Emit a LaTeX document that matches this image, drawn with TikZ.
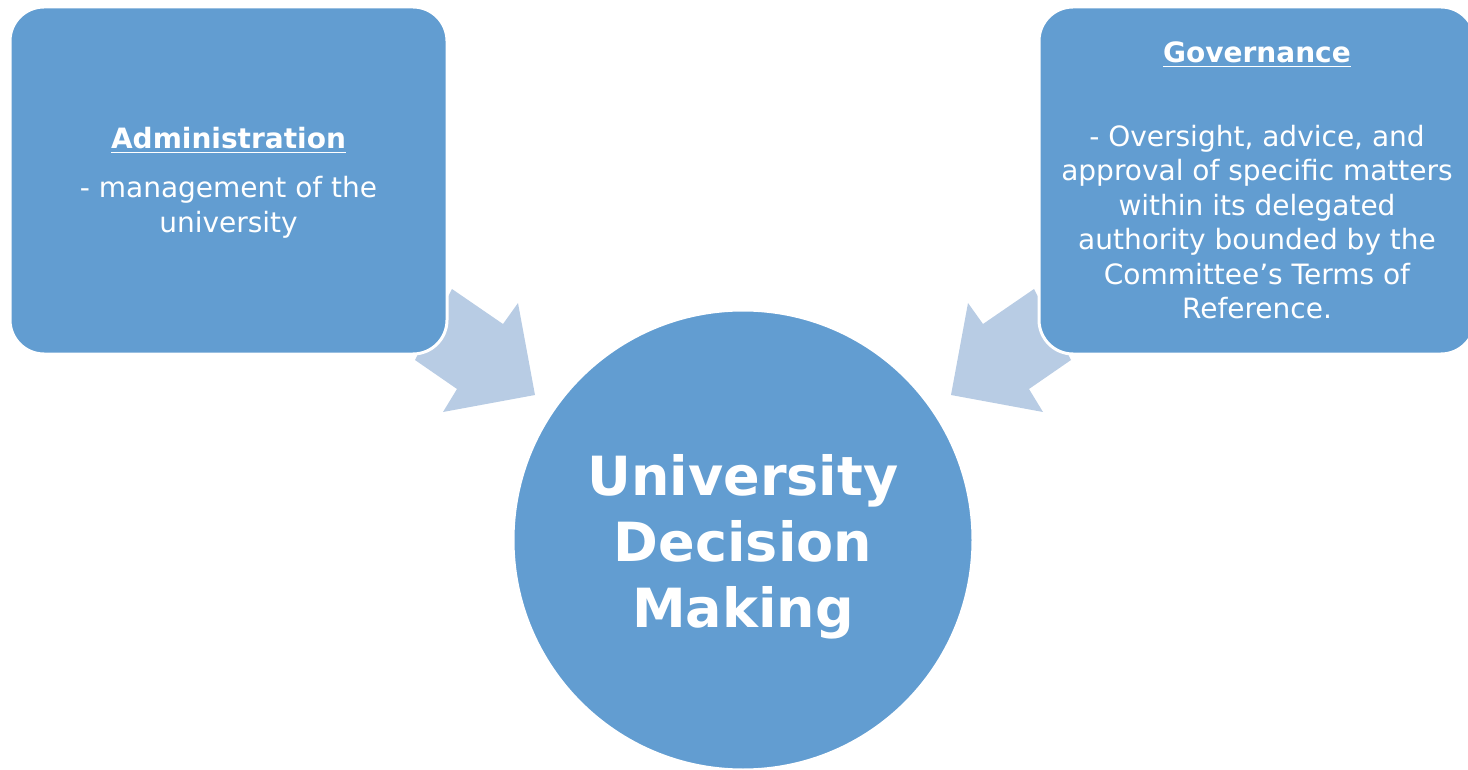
\documentclass[tikz,border=0pt]{standalone}
\usepackage{fontspec}
\setmainfont{DejaVu Sans}
\definecolor{boxblue}{RGB}{98,157,209}
\definecolor{arrowblue}{RGB}{184,204,228}
\newcommand\headul[1]{\setbox0\hbox{#1}\rlap{\rule[-4.2pt]{\wd0}{1.6pt}}\box0}
\begin{document}
\begin{tikzpicture}[x=1pt,y=-1pt,
  panel/.style={rectangle, fill=boxblue, draw=white, line width=3pt, rounded corners=34pt, inner sep=0pt},
  hub/.style={circle, fill=boxblue, draw=white, line width=3pt, inner sep=0pt, minimum size=460pt},
  blockarrow/.style={fill=arrowblue, draw=none},
  bodytext/.style={text=white, align=center, inner sep=0pt, font=\fontsize{28}{34.6}\selectfont},
  headtext/.style={text=white, inner sep=0pt, font=\bfseries\fontsize{28}{34.6}\selectfont},
  hubtext/.style={text=white, align=center, inner sep=0pt, font=\bfseries\fontsize{54}{66}\selectfont}
]
\useasboundingbox (0,0) rectangle (1468,770);
\clip (0,0) rectangle (1468,770);
% block arrows
\coordinate (la1) at (452,289);
\coordinate (la2) at (503,324);
\coordinate (la3) at (518,303);
\coordinate (la4) at (535,395);
\coordinate (la5) at (443,412);
\coordinate (la6) at (457,389);
\coordinate (la7) at (415,360);
\fill[blockarrow] (la1) -- (la2) -- (la3) -- (la4) -- (la5) -- (la6) -- (la7) -- cycle;
\coordinate (ra1) at (1034,289);
\coordinate (ra2) at (983,324);
\coordinate (ra3) at (968,303);
\coordinate (ra4) at (951,395);
\coordinate (ra5) at (1043,412);
\coordinate (ra6) at (1029,389);
\coordinate (ra7) at (1071,360);
\fill[blockarrow] (ra1) -- (ra2) -- (ra3) -- (ra4) -- (ra5) -- (ra6) -- (ra7) -- cycle;
% panels
\node[panel, minimum width=437pt, minimum height=347pt] (adm) at (228.5,180.5) {};
\node[panel, minimum width=436pt, minimum height=347pt] (gov) at (1257,180.5) {};
\node[hub] (udm) at (743,540) {};
% texts (multi-line nodes: base anchor is the last line's baseline)
\node[headtext, anchor=base] (admhead) at (228.5,149) {\headul{Administration}};
\node[bodytext, anchor=base] (admbody) at (228.5,232.6) {- management of the\\university};
\node[headtext, anchor=base] (govhead) at (1257,63) {\headul{Governance}};
\node[bodytext, anchor=base] (govbody) at (1257,319) {- Oversight, advice, and\\approval of specific matters\\within its delegated\\authority bounded by the\\Committee’s Terms of\\Reference.};
\node[hubtext, anchor=base] (udmtext) at (743,627) {University\\Decision\\Making};
\end{tikzpicture}
\end{document}
